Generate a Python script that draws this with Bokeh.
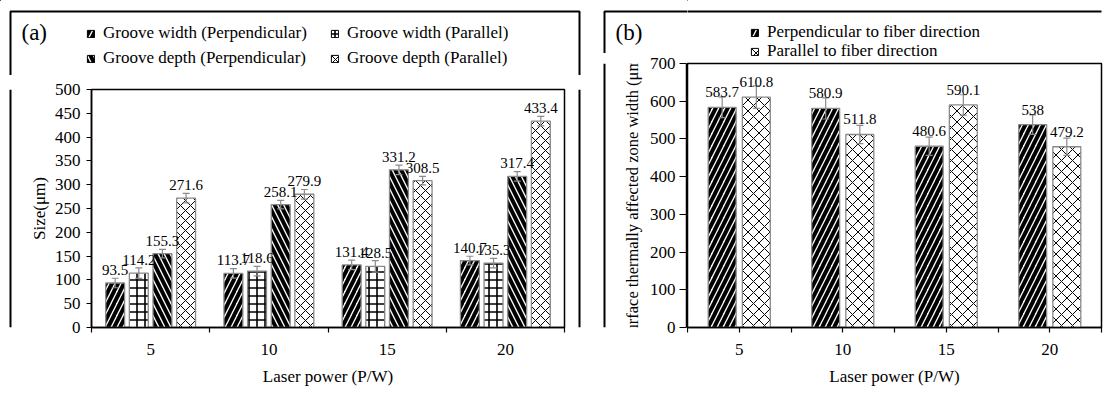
import math
from bokeh.plotting import figure
from bokeh.layouts import row, column
from bokeh.models import (Range1d, FixedTicker, ColumnDataSource, Whisker, TeeHead, LabelSet,
                          Legend, LegendItem, Label, BoxAnnotation, Span)
from bokeh.transform import dodge
from bokeh.core.properties import value
from bokeh.embed import file_html
from bokeh.resources import INLINE

FONT = "Liberation Serif"

# ---------------- data ----------------
categories = ["5", "10", "15", "20"]
x_title = "Laser power (P/W)"

# panel (a)
a_names = ["Groove width (Perpendicular)", "Groove width (Parallel)",
           "Groove depth (Perpendicular)", "Groove depth (Parallel)"]
a_width_perp = [93.5, 113.7, 131.4, 140.7]
a_width_par = [114.2, 118.6, 128.5, 135.3]
a_depth_perp = [155.3, 258.1, 331.2, 317.4]
a_depth_par = [271.6, 279.9, 308.5, 433.4]
a_err_width_perp = [10, 10, 10, 9]
a_err_width_par = [11, 10, 12, 10]
a_err_depth_perp = [9, 9, 10, 10]
a_err_depth_par = [10, 10, 9, 10]
a_y_ticks = [0, 50, 100, 150, 200, 250, 300, 350, 400, 450, 500]
a_y_title = "Size(μm)"

# panel (b)
b_names = ["Perpendicular to fiber direction", "Parallel to fiber direction"]
b_perp = [583.7, 580.9, 480.6, 538]
b_par = [610.8, 511.8, 590.1, 479.2]
b_err_perp = [27, 28, 24, 26]
b_err_par = [30, 24, 27, 23]
b_y_ticks = [0, 100, 200, 300, 400, 500, 600, 700]
b_y_title = "Surface thermally affected zone width (μm)"

# ---------------- styles ----------------
GRAY = "#8a8a8a"
BASE = dict(fill_color="white", line_color=GRAY, line_width=1.3, hatch_color="black")
S_SLASH = dict(BASE, hatch_pattern="/", hatch_weight=4, hatch_scale=12)
S_BACK = dict(BASE, hatch_pattern="\\", hatch_weight=4, hatch_scale=12)
S_BRICK = dict(BASE, hatch_pattern="+", hatch_weight=1.6, hatch_scale=8)
S_LATT = dict(BASE, hatch_pattern="x", hatch_weight=1.0, hatch_scale=10)
S_LATT_B = dict(S_LATT, hatch_scale=11)


def style_axis_text(ax):
    ax.major_label_text_font = FONT
    ax.major_label_text_font_size = "17px"
    ax.major_label_text_color = "black"
    ax.axis_label_text_font = FONT
    ax.axis_label_text_font_size = "17px"
    ax.axis_label_text_font_style = "normal"
    ax.axis_label_text_color = "black"


def style_y_axis(ya, y_ticks, tick_out, standoff):
    ya.ticker = FixedTicker(ticks=y_ticks)
    ya.major_tick_in = 0
    ya.major_tick_out = tick_out
    ya.minor_tick_line_color = None
    ya.major_tick_line_width = 1.2
    ya.axis_line_color = "black"
    ya.axis_line_width = 1.5
    ya.major_label_standoff = standoff
    style_axis_text(ya)


def make_main(width, height, y_range, mb_left, mb_right, mb_top, center_ticks, with_y):
    n = len(categories)
    centers = [i + 0.5 for i in range(n)]
    bounds = list(range(n + 1))
    kw = {} if with_y else dict(y_axis_location=None)
    p = figure(width=width, height=height, x_range=Range1d(0, n), y_range=y_range,
               output_backend="svg", toolbar_location=None,
               min_border_left=mb_left, min_border_right=mb_right,
               min_border_top=mb_top, min_border_bottom=67, **kw)
    p.background_fill_color = "white"
    p.border_fill_color = "white"
    p.outline_line_color = "black"
    p.outline_line_width = 1.5
    p.xgrid.visible = False
    p.ygrid.visible = False

    xa = p.xaxis[0]
    xa.ticker = FixedTicker(ticks=centers, minor_ticks=bounds)
    xa.major_label_overrides = {c: lab for c, lab in zip(centers, categories)}
    xa.major_tick_in = 0
    xa.major_tick_out = 5
    xa.minor_tick_in = 0
    xa.minor_tick_out = 5
    xa.major_tick_line_color = "black" if center_ticks else None
    xa.minor_tick_line_color = "black"
    xa.major_tick_line_width = 1.2
    xa.minor_tick_line_width = 1.2
    xa.axis_line_color = "black"
    xa.axis_line_width = 1.5
    xa.major_label_standoff = 11
    xa.axis_label = x_title
    xa.axis_label_standoff = 9
    style_axis_text(xa)
    return p, centers


def bars(p, xs, vals, errs, offset, width, style, lbl_off):
    src = ColumnDataSource(dict(
        x=xs, top=vals,
        upper=[v + e for v, e in zip(vals, errs)],
        lower=[v - e for v, e in zip(vals, errs)],
        text=[f"{v:g}" for v in vals]))
    r = p.vbar(x=dodge("x", offset), top="top", width=width, source=src, **style)
    w = Whisker(base=dodge("x", offset), upper="upper", lower="lower", source=src,
                line_color=GRAY, line_width=1.2, level="annotation",
                upper_head=TeeHead(size=7, line_color=GRAY, line_width=1.2),
                lower_head=TeeHead(size=7, line_color=GRAY, line_width=1.2))
    p.add_layout(w)
    ls = LabelSet(x=dodge("x", offset), y="top", text="text", source=src,
                  text_align="center", text_baseline="middle", y_offset=lbl_off,
                  text_font=value(FONT), text_font_size="15px", text_color="black")
    p.add_layout(ls)
    return r


def make_blank(width, height):
    # figure whose frame covers the whole canvas; data units == canvas pixels
    h = figure(width=width, height=height, x_range=Range1d(0, width), y_range=Range1d(height, 0),
               x_axis_type=None, y_axis_type=None, output_backend="svg", toolbar_location=None,
               min_border=0, min_border_left=0, min_border_right=0,
               min_border_top=0, min_border_bottom=0)
    h.outline_line_color = None
    h.background_fill_color = "white"
    h.border_fill_color = "white"
    return h


LEG = dict(orientation="vertical", padding=0, margin=0, spacing=0,
           glyph_width=9, glyph_height=9, label_standoff=8,
           label_text_font=FONT, label_text_font_size="17px", label_text_color="black",
           border_line_alpha=0, background_fill_alpha=0)


def proxy(h, style):
    # legend proxy: a single zero-height bar kept outside the visible area
    return h.vbar(x=[-50], top=[0], bottom=[0], width=1, **dict(style, line_color="black", line_width=1))


def add_legend(h, style, name, vx, vy, lh):
    h.add_layout(Legend(items=[LegendItem(label=name, renderers=[proxy(h, style)])],
                        location=(vx, vy), label_height=lh, **LEG))


def add_box(h, left, right, top=11):
    h.add_layout(BoxAnnotation(left=left, right=right, top=top, bottom=2000,
                               fill_alpha=0, line_color="black", line_alpha=1,
                               line_width=2, level="overlay"))


def add_text(h, text, x, y, size, angle=0.0, align="left"):
    h.add_layout(Label(x=x, y=y, text=text, angle=angle, text_baseline="middle",
                       text_align=align, text_font=FONT, text_font_size=size,
                       text_color="black"))


# ---------------- panel (a) ----------------
HA = 75
headA = make_blank(591, HA)
add_box(headA, 10, 579)
add_text(headA, "(a)", 21, 32, "23px")
add_legend(headA, S_SLASH, a_names[0], 86, HA - 43, 20)
add_legend(headA, S_BRICK, a_names[1], 330, HA - 43, 20)
add_legend(headA, S_BACK, a_names[2], 86, HA - 68, 20)
add_legend(headA, S_LATT, a_names[3], 330, HA - 68, 20)

mainA, ca = make_main(551, 394 - HA, Range1d(0, 500), 71, 7, 89 - HA, False, True)
ya = mainA.yaxis[0]
style_y_axis(ya, a_y_ticks, 5, 6)
ya.axis_label = a_y_title
ya.axis_label_standoff = 3
bars(mainA, ca, a_width_perp, a_err_width_perp, -0.3, 0.16, S_SLASH, 13)
bars(mainA, ca, a_width_par, a_err_width_par, -0.1, 0.16, S_BRICK, 13)
bars(mainA, ca, a_depth_perp, a_err_depth_perp, 0.1, 0.16, S_BACK, 13)
bars(mainA, ca, a_depth_par, a_err_depth_par, 0.3, 0.16, S_LATT, 13)

stripAL = make_blank(20, 394 - HA)
stripAL.add_layout(Span(location=10, dimension="height", line_color="black", line_width=2))
stripAR = make_blank(20, 394 - HA)
stripAR.add_layout(Span(location=8, dimension="height", line_color="black", line_width=2))
panelA = column(headA, row(stripAL, mainA, stripAR, spacing=0), spacing=0)

# ---------------- panel (b) ----------------
HB1 = 53   # header above the y axis part
HB2 = 61   # header above the plotting area
b_range = Range1d(0, 700)

headB1 = make_blank(96, HB1)
add_box(headB1, 13, 2000)
add_text(headB1, "(b)", 24, 32, "23px")

stripB = make_blank(54, 394 - HB1)
stripB.add_layout(Span(location=13, dimension="height", line_color="black", line_width=2))
add_text(stripB, b_y_title, 41, 226 - HB1, "16.5px", angle=math.pi / 2, align="center")

yaxB = figure(width=42, height=394 - HB1, x_range=Range1d(0, 1), y_range=b_range,
              x_axis_location=None, output_backend="svg", toolbar_location=None,
              min_border_left=41, min_border_right=0, min_border_top=63 - HB1,
              min_border_bottom=67)
yaxB.outline_line_color = None
yaxB.background_fill_color = "white"
yaxB.border_fill_color = "white"
yaxB.xgrid.visible = False
yaxB.ygrid.visible = False
style_y_axis(yaxB.yaxis[0], b_y_ticks, 7, 4)

headB2 = make_blank(419, HB2)
add_box(headB2, -100, 2000)
add_legend(headB2, S_SLASH, b_names[0], 63, 19, 20)
add_legend(headB2, S_LATT_B, b_names[1], 63, 0, 20)

mainB, cb = make_main(419, 394 - HB2, b_range, 0, 5, 63 - HB2, True, False)
bars(mainB, cb, b_perp, b_err_perp, -0.165, 0.27, S_SLASH, 15)
bars(mainB, cb, b_par, b_err_par, 0.165, 0.27, S_LATT_B, 15)

panelB = row(column(headB1, row(stripB, yaxB, spacing=0), spacing=0),
             column(headB2, mainB, spacing=0), spacing=0)

layout = row(panelA, panelB, spacing=0)
open("out.html", "w").write(file_html(layout, INLINE))
